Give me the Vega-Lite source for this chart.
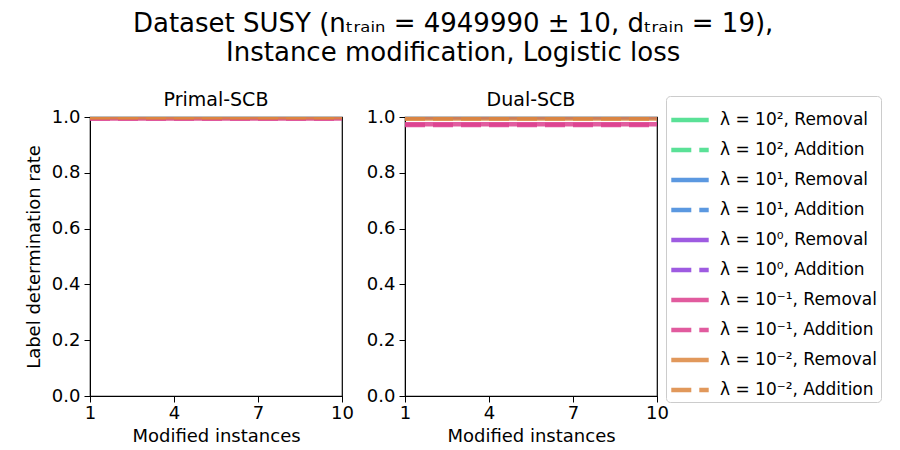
{
  "$schema": "https://vega.github.io/schema/vega-lite/v6.json",
  "background": "white",
  "padding": {"left": 24, "top": 11, "right": 3, "bottom": 5},
  "title": {
    "text": ["Dataset SUSY (nₜᵣₐᵢₙ = 4949990 ± 10, dₜᵣₐᵢₙ = 19),", "Instance modification, Logistic loss"],
    "fontSize": 26, "font": "DejaVu Sans", "fontWeight": "normal", "color": "black",
    "anchor": "middle", "lineHeight": 29, "offset": 24
  },
  "data": {"values": [
    {"x": 1, "method": "Primal-SCB", "r2": 1, "a2": 1, "r1": 1, "a1": 1, "r0": 1, "a0": 1, "rm1": 0.995, "am1": 0.995, "rm2": 0.999, "am2": 0.999},
    {"x": 2, "method": "Primal-SCB", "r2": 1, "a2": 1, "r1": 1, "a1": 1, "r0": 1, "a0": 1, "rm1": 0.995, "am1": 0.995, "rm2": 0.999, "am2": 0.999},
    {"x": 3, "method": "Primal-SCB", "r2": 1, "a2": 1, "r1": 1, "a1": 1, "r0": 1, "a0": 1, "rm1": 0.995, "am1": 0.995, "rm2": 0.999, "am2": 0.999},
    {"x": 4, "method": "Primal-SCB", "r2": 1, "a2": 1, "r1": 1, "a1": 1, "r0": 1, "a0": 1, "rm1": 0.995, "am1": 0.995, "rm2": 0.999, "am2": 0.999},
    {"x": 5, "method": "Primal-SCB", "r2": 1, "a2": 1, "r1": 1, "a1": 1, "r0": 1, "a0": 1, "rm1": 0.995, "am1": 0.995, "rm2": 0.999, "am2": 0.999},
    {"x": 6, "method": "Primal-SCB", "r2": 1, "a2": 1, "r1": 1, "a1": 1, "r0": 1, "a0": 1, "rm1": 0.995, "am1": 0.995, "rm2": 0.999, "am2": 0.999},
    {"x": 7, "method": "Primal-SCB", "r2": 1, "a2": 1, "r1": 1, "a1": 1, "r0": 1, "a0": 1, "rm1": 0.995, "am1": 0.995, "rm2": 0.999, "am2": 0.999},
    {"x": 8, "method": "Primal-SCB", "r2": 1, "a2": 1, "r1": 1, "a1": 1, "r0": 1, "a0": 1, "rm1": 0.995, "am1": 0.995, "rm2": 0.999, "am2": 0.999},
    {"x": 9, "method": "Primal-SCB", "r2": 1, "a2": 1, "r1": 1, "a1": 1, "r0": 1, "a0": 1, "rm1": 0.995, "am1": 0.995, "rm2": 0.999, "am2": 0.999},
    {"x": 10, "method": "Primal-SCB", "r2": 1, "a2": 1, "r1": 1, "a1": 1, "r0": 1, "a0": 1, "rm1": 0.995, "am1": 0.995, "rm2": 0.999, "am2": 0.999},
    {"x": 1, "method": "Dual-SCB", "r2": 1, "a2": 1, "r1": 1, "a1": 1, "r0": 0.999, "a0": 0.999, "rm1": 0.974, "am1": 0.971, "rm2": 0.995, "am2": 0.995},
    {"x": 2, "method": "Dual-SCB", "r2": 1, "a2": 1, "r1": 1, "a1": 1, "r0": 0.999, "a0": 0.999, "rm1": 0.974, "am1": 0.971, "rm2": 0.995, "am2": 0.995},
    {"x": 3, "method": "Dual-SCB", "r2": 1, "a2": 1, "r1": 1, "a1": 1, "r0": 0.999, "a0": 0.999, "rm1": 0.974, "am1": 0.971, "rm2": 0.995, "am2": 0.995},
    {"x": 4, "method": "Dual-SCB", "r2": 1, "a2": 1, "r1": 1, "a1": 1, "r0": 0.999, "a0": 0.999, "rm1": 0.974, "am1": 0.971, "rm2": 0.995, "am2": 0.995},
    {"x": 5, "method": "Dual-SCB", "r2": 1, "a2": 1, "r1": 1, "a1": 1, "r0": 0.999, "a0": 0.999, "rm1": 0.974, "am1": 0.971, "rm2": 0.995, "am2": 0.995},
    {"x": 6, "method": "Dual-SCB", "r2": 1, "a2": 1, "r1": 1, "a1": 1, "r0": 0.999, "a0": 0.999, "rm1": 0.974, "am1": 0.971, "rm2": 0.995, "am2": 0.995},
    {"x": 7, "method": "Dual-SCB", "r2": 1, "a2": 1, "r1": 1, "a1": 1, "r0": 0.999, "a0": 0.999, "rm1": 0.974, "am1": 0.971, "rm2": 0.995, "am2": 0.995},
    {"x": 8, "method": "Dual-SCB", "r2": 1, "a2": 1, "r1": 1, "a1": 1, "r0": 0.999, "a0": 0.999, "rm1": 0.974, "am1": 0.971, "rm2": 0.995, "am2": 0.995},
    {"x": 9, "method": "Dual-SCB", "r2": 1, "a2": 1, "r1": 1, "a1": 1, "r0": 0.999, "a0": 0.999, "rm1": 0.974, "am1": 0.971, "rm2": 0.995, "am2": 0.995},
    {"x": 10, "method": "Dual-SCB", "r2": 1, "a2": 1, "r1": 1, "a1": 1, "r0": 0.999, "a0": 0.999, "rm1": 0.974, "am1": 0.971, "rm2": 0.995, "am2": 0.995}
  ]},
  "transform": [
    {"fold": ["r2", "a2", "r1", "a1", "r0", "a0", "rm1", "am1", "rm2", "am2"], "as": ["series", "rate"]}
  ],
  "spacing": 10,
  "hconcat": [
    {
      "title": {"text": "Primal-SCB", "fontWeight": "normal", "fontSize": 19, "offset": -2},
      "width": 252, "height": 279,
      "transform": [{"filter": "datum.method === 'Primal-SCB'"}],
      "mark": {"type": "line", "strokeWidth": 4.5, "opacity": 0.85, "clip": true},
      "encoding": {
        "x": {"field": "x", "type": "quantitative", "scale": {"domain": [1, 10], "nice": false, "zero": false},
              "axis": {"values": [1, 4, 7, 10], "title": "Modified instances", "labelPadding": 2, "titlePadding": 5}},
        "y": {"field": "rate", "type": "quantitative", "scale": {"domain": [0, 1], "nice": false},
              "axis": {"values": [0, 0.2, 0.4, 0.6, 0.8, 1.0], "format": ".1f", "title": "Label determination rate"}},
        "color": {"field": "series", "type": "nominal",
                  "scale": {"domain": ["r2", "a2", "r1", "a1", "r0", "a0", "rm1", "am1", "rm2", "am2"],
                            "range": ["#3edc85", "#3edc85", "#3f87db", "#3f87db", "#8e3fdc", "#8e3fdc", "#dc3f8e", "#dc3f8e", "#dc873f", "#dc873f"]},
                  "legend": {"title": null, "orient": "none", "legendX": 576, "legendY": -21, "labelExpr": "{'r2':'λ = 10², Removal','a2':'λ = 10², Addition','r1':'λ = 10¹, Removal','a1':'λ = 10¹, Addition','r0':'λ = 10⁰, Removal','a0':'λ = 10⁰, Addition','rm1':'λ = 10⁻¹, Removal','am1':'λ = 10⁻¹, Addition','rm2':'λ = 10⁻², Removal','am2':'λ = 10⁻², Addition'}[datum.value]"}},
        "strokeDash": {"field": "series", "type": "nominal",
                  "scale": {"domain": ["r2", "a2", "r1", "a1", "r0", "a0", "rm1", "am1", "rm2", "am2"],
                            "range": [[1, 0], [20, 8], [1, 0], [20, 8], [1, 0], [20, 8], [1, 0], [20, 8], [1, 0], [20, 8]]},
                  "legend": {"title": null, "orient": "none", "legendX": 576, "legendY": -21, "labelExpr": "{'r2':'λ = 10², Removal','a2':'λ = 10², Addition','r1':'λ = 10¹, Removal','a1':'λ = 10¹, Addition','r0':'λ = 10⁰, Removal','a0':'λ = 10⁰, Addition','rm1':'λ = 10⁻¹, Removal','am1':'λ = 10⁻¹, Addition','rm2':'λ = 10⁻², Removal','am2':'λ = 10⁻², Addition'}[datum.value]"}}
      }
    },
    {
      "title": {"text": "Dual-SCB", "fontWeight": "normal", "fontSize": 19, "offset": -2},
      "width": 252, "height": 279,
      "transform": [{"filter": "datum.method === 'Dual-SCB'"}],
      "mark": {"type": "line", "strokeWidth": 4.5, "opacity": 0.85, "clip": true},
      "encoding": {
        "x": {"field": "x", "type": "quantitative", "scale": {"domain": [1, 10], "nice": false, "zero": false},
              "axis": {"values": [1, 4, 7, 10], "title": "Modified instances", "labelPadding": 2, "titlePadding": 5}},
        "y": {"field": "rate", "type": "quantitative", "scale": {"domain": [0, 1], "nice": false},
              "axis": {"values": [0, 0.2, 0.4, 0.6, 0.8, 1.0], "format": ".1f", "title": null}},
        "color": {"field": "series", "type": "nominal",
                  "scale": {"domain": ["r2", "a2", "r1", "a1", "r0", "a0", "rm1", "am1", "rm2", "am2"],
                            "range": ["#3edc85", "#3edc85", "#3f87db", "#3f87db", "#8e3fdc", "#8e3fdc", "#dc3f8e", "#dc3f8e", "#dc873f", "#dc873f"]},
                  "legend": {"title": null, "orient": "none", "legendX": 576, "legendY": -21, "labelExpr": "{'r2':'λ = 10², Removal','a2':'λ = 10², Addition','r1':'λ = 10¹, Removal','a1':'λ = 10¹, Addition','r0':'λ = 10⁰, Removal','a0':'λ = 10⁰, Addition','rm1':'λ = 10⁻¹, Removal','am1':'λ = 10⁻¹, Addition','rm2':'λ = 10⁻², Removal','am2':'λ = 10⁻², Addition'}[datum.value]"}},
        "strokeDash": {"field": "series", "type": "nominal",
                  "scale": {"domain": ["r2", "a2", "r1", "a1", "r0", "a0", "rm1", "am1", "rm2", "am2"],
                            "range": [[1, 0], [20, 8], [1, 0], [20, 8], [1, 0], [20, 8], [1, 0], [20, 8], [1, 0], [20, 8]]},
                  "legend": {"title": null, "orient": "none", "legendX": 576, "legendY": -21, "labelExpr": "{'r2':'λ = 10², Removal','a2':'λ = 10², Addition','r1':'λ = 10¹, Removal','a1':'λ = 10¹, Addition','r0':'λ = 10⁰, Removal','a0':'λ = 10⁰, Addition','rm1':'λ = 10⁻¹, Removal','am1':'λ = 10⁻¹, Addition','rm2':'λ = 10⁻², Removal','am2':'λ = 10⁻², Addition'}[datum.value]"}}
      }
    }
  ],
  "resolve": {"scale": {"color": "shared", "strokeDash": "shared"}},
  "config": {
    "font": "DejaVu Sans",
    "view": {"stroke": "black", "strokeWidth": 1.2},
    "title": {"fontSize": 19, "fontWeight": "normal", "font": "DejaVu Sans", "color": "black"},
    "axis": {
      "grid": false, "labelFont": "DejaVu Sans", "titleFont": "DejaVu Sans",
      "labelFontSize": 18, "titleFontSize": 18, "titleFontWeight": "normal",
      "labelColor": "black", "titleColor": "black", "tickColor": "black", "domainColor": "black",
      "tickSize": 6, "labelPadding": 4, "titlePadding": 8, "labelFlush": false, "labelOverlap": false
    },
    "legend": {
      "symbolType": "stroke", "symbolSize": 1400, "symbolStrokeWidth": 4.5, "symbolOpacity": 0.85,
      "labelFont": "DejaVu Sans", "labelFontSize": 17, "labelColor": "black", "labelLimit": 300,
      "rowPadding": -20, "labelOffset": 9,
      "strokeColor": "#cccccc", "cornerRadius": 4, "padding": 3, "fillColor": "white"
    }
  }
}
